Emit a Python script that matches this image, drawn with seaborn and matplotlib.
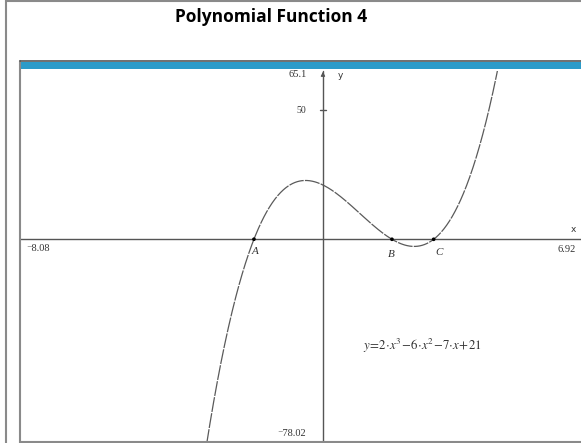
import numpy as np
import pandas as pd
import matplotlib
matplotlib.use("Agg")
import matplotlib.pyplot as plt
import seaborn as sns
from matplotlib.lines import Line2D
from matplotlib.patches import Rectangle

# ---- data ----
title = "Polynomial Function 4"
coeffs = [2, -6, -7, 21]          # y = 2x^3 - 6x^2 - 7x + 21
x_window = [-8.08, 6.92]
y_window = [-78.02, 65.1]
point_names = ["A", "B", "C"]
point_x = [-1.87, 1.87, 3.0]
y_tick_values = [50]
equation = r"$y\!=\!2\!\cdot\! x^{3}\!-\!6\!\cdot\! x^{2}\!-\!7\!\cdot\! x\!+\!21$"

sns.set_style("white")
plt.rcParams["mathtext.fontset"] = "stix"

W, H = 581, 443
fig = plt.figure(figsize=(W / 100, H / 100), dpi=100)

def fx(px):
    return px / W

def fy(py):
    return 1 - py / H

# axes placement in pixels
ax_l, ax_r, ax_t, ax_b = 24.8, 578.3, 71, 441
ax = fig.add_axes([fx(ax_l), fy(ax_b), fx(ax_r - ax_l), (ax_b - ax_t) / H])
ax.set_xlim(*x_window)
ax.set_ylim(*y_window)
ax.axis("off")

# curve
xs = np.linspace(x_window[0], x_window[1], 1200)
df = pd.DataFrame({"x": xs, "y": np.polyval(coeffs, xs)})
sns.lineplot(data=df, x="x", y="y", ax=ax, color="#5a5a5a", lw=0.9,
             linestyle=(0, (12, 1.0)), sort=False, estimator=None)

# axes lines
ax.plot([x_window[0] - 0.12, x_window[1] + 0.1], [0, 0], color="#555555", lw=1.0, clip_on=False)
ax.plot([0, 0], [y_window[0] - 0.5, y_window[1]], color="#555555", lw=1.0, clip_on=False)
ax.annotate("", xy=(0, y_window[1] + 0.8), xytext=(0, y_window[1] - 3),
            arrowprops=dict(arrowstyle="-|>", color="#555555", lw=0.8,
                            mutation_scale=6), annotation_clip=False)

serif = ["Liberation Serif", "DejaVu Serif"]

# y tick at 50
for v in y_tick_values:
    ax.plot([-0.08, 0.08], [v, v], color="#555555", lw=1.0)
    ax.text(-0.45, v, str(v), ha="right", va="center", fontsize=7,
            family=serif, color="#333333")

# points
pts = pd.DataFrame({"x": point_x, "y": np.polyval(coeffs, point_x)})
sns.scatterplot(data=pts, x="x", y="y", ax=ax, color="black", s=7,
                edgecolor="none", zorder=5)

lbl_off = {"A": (-1.92, -4.9, "left"), "B": (1.84, -5.8, "center"), "C": (3.14, -5.0, "center")}
for n in point_names:
    x0, y0, ha = lbl_off[n]
    ax.text(x0, y0, n, ha=ha, va="center", fontsize=8, style="italic",
            family=serif, color="#333333")

txt_kw = dict(fontsize=7.5, family=serif, color="#333333")
ax.text(-0.43, 63.6, f"{y_window[1]}", ha="right", va="center", **txt_kw)
ax.text(0.41, 63.4, "y", ha="left", va="center", fontsize=6.5, family="DejaVu Sans", color="#333333")
ax.text(6.8, 3.6, "x", ha="center", va="center", fontsize=6.5, family="DejaVu Sans", color="#333333")
ax.text(-8.05, -3.7, "\u207b" + f"{abs(x_window[0]):.2f}", ha="left", va="center", **txt_kw)
ax.text(6.86, -4.0, f"{x_window[1]:.2f}", ha="right", va="center", **txt_kw)
ax.text(-0.45, -75.0, "\u207b" + f"{abs(y_window[0]):.2f}", ha="right", va="center", **txt_kw)
ax.text(1.08, -41.3, equation, ha="left", va="center", fontsize=9.3, color="#333333")

# frame decorations
fig.add_artist(Line2D([fx(5.5), fx(5.5)], [0, 1], color="#8a8a8a", lw=1.5))
fig.add_artist(Line2D([fx(5.5), 1], [fy(0.7), fy(0.7)], color="#8a8a8a", lw=1.5))
fig.add_artist(Line2D([fx(20), fx(20)], [0, fy(61)], color="#8a8a8a", lw=1.5))
fig.add_artist(Line2D([fx(20), 1], [fy(441.5), fy(441.5)], color="#8a8a8a", lw=1.5))
fig.add_artist(Line2D([fx(19.5), 1], [fy(61), fy(61)], color="#555555", lw=1.2))
fig.add_artist(Rectangle((fx(20), fy(68.5)), 1 - fx(20), (68.5 - 62) / H,
                         facecolor="#2b9bc9", edgecolor="none"))

fig.text(fx(271), fy(17), title, ha="center", va="center", fontsize=12.5,
         fontweight="bold", family="Open Sans", color="black")

fig.savefig("out.png", dpi=100)
